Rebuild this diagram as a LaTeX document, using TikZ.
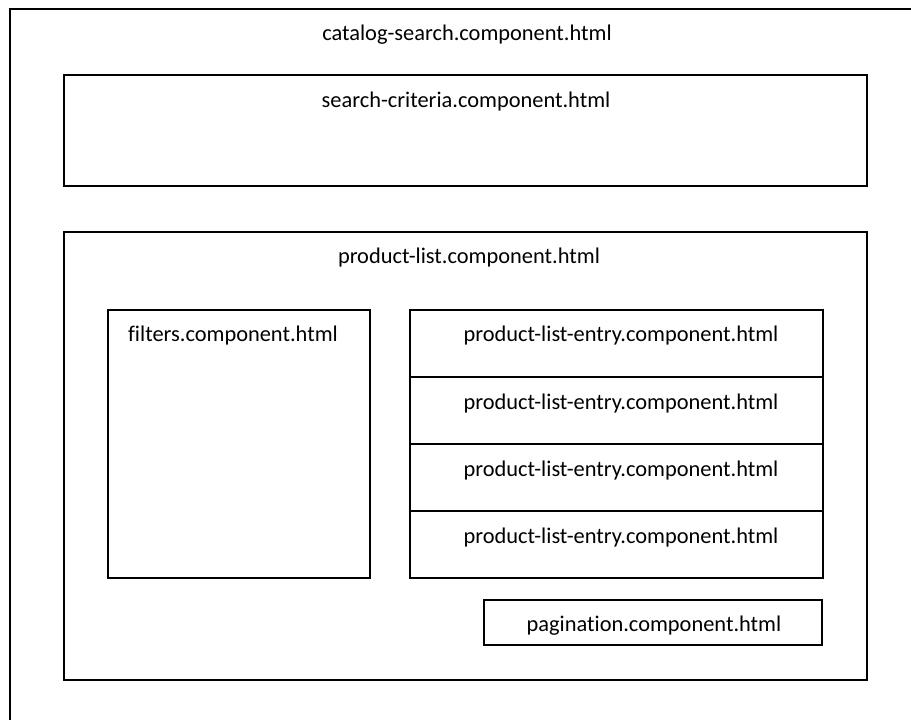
\documentclass[tikz,border=0pt]{standalone}
\usepackage{fontspec}
\setmainfont{Carlito}[Ligatures=NoCommon]
\begin{document}
\begin{tikzpicture}[x=0.75pt,y=-0.75pt,
  box/.style={draw=black,line width=1.5pt,inner sep=0pt},
  lbl/.style={inner sep=0pt,font=\fontsize{16.8}{20}\selectfont}]
\useasboundingbox (0,0) rectangle (911,720);
\clip (0,0) rectangle (911,720);
% outer (clipped at right and bottom)
\draw[box] (9.5,9.5) rectangle (960,780);
\node[lbl] (tcat) at (467,35) {catalog-search.component.html};
% search criteria
\node[box,minimum width={803*0.75pt},minimum height={111*0.75pt}] (sc) at (465.5,130.5) {};
\node[lbl] (tsc) at (466,101.5) {search-criteria.component.html};
% product list
\node[box,minimum width={803*0.75pt},minimum height={448*0.75pt}] (pl) at (465.5,456) {};
\node[lbl] (tpl) at (469,257.5) {product-list.component.html};
% filters
\node[box,minimum width={262*0.75pt},minimum height={268*0.75pt}] (fi) at (239,444) {};
\node[lbl] (tfi) at (233,335.5) {filters.component.html};
% entries
\node[box,minimum width={413*0.75pt},minimum height={67*0.75pt}] (e1) at (616.5,343.5) {};
\node[box,minimum width={413*0.75pt},minimum height={67*0.75pt}] (e2) at (616.5,410.5) {};
\node[box,minimum width={413*0.75pt},minimum height={67*0.75pt}] (e3) at (616.5,477.5) {};
\node[box,minimum width={413*0.75pt},minimum height={67*0.75pt}] (e4) at (616.5,544.5) {};
\node[lbl] (te1) at (621,335.5) {product-list-entry.component.html};
\node[lbl] (te2) at (621,403.5) {product-list-entry.component.html};
\node[lbl] (te3) at (621,470.5) {product-list-entry.component.html};
\node[lbl] (te4) at (621,537.5) {product-list-entry.component.html};
% pagination
\node[box,minimum width={338*0.75pt},minimum height={45*0.75pt}] (pg) at (653,622.5) {};
\node[lbl] (tpg) at (654,625.5) {pagination.component.html};
\end{tikzpicture}
\end{document}
